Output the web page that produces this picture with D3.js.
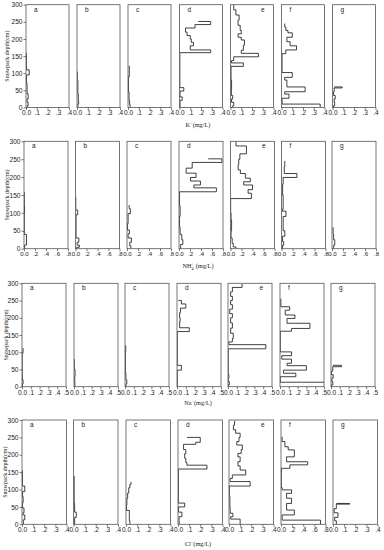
<!DOCTYPE html>
<html>
<head>
<meta charset="utf-8">
<script src="https://cdn.jsdelivr.net/npm/d3@7"></script>
<style>
  body { margin: 0; background: #fff; }
  svg { display: block; }
</style>
</head>
<body>
<div id="chart"></div>
<script>
const W = 384, H = 550;

// ---- data: each profile is a list of [layer top depth (cm), concentration (mg/L)] from the surface down
const panelLetters = ["a", "b", "c", "d", "e", "f", "g"];
const depthTicks = [0, 50, 100, 150, 200, 250, 300];
const ticks04 = [0, 0.1, 0.2, 0.3, 0.4];
const ticks05 = [0, 0.1, 0.2, 0.3, 0.4, 0.5];
const ticks08 = [0, 0.2, 0.4, 0.6, 0.8];
const ionNames = [["K", "+", "", "(mg/L)"], ["NH", "+", "4", " (mg/L)"], ["Na", "+", "", "(mg/L)"], ["Cl", "−", "", "(mg/L)"]];

const kProfiles = [
  [[160,0.003],[110,0.03],[95,0.005],[70,0.01],[40,0.02],[25,0.01],[15,0.02],[5,0.01]],
  [[105,0.002],[80,0.008],[40,0.012],[20,0.015],[10,0.008]],
  [[122,0.012],[90,0.004],[45,0.01],[20,0.015],[8,0.02]],
  [[251,0.175],[251,0.29],[242,0.144],[232,0.056],[220,0.07],[210,0.1],[200,0.11],[190,0.13],[180,0.1],[168,0.29],[160,0.003],[58,0.04],[48,0.005],[31,0.025],[21,0.005]],
  [[300,0.03],[285,0.05],[270,0.08],[255,0.07],[240,0.09],[225,0.1],[215,0.07],[205,0.1],[197,0.13],[182,0.12],[167,0.1],[158,0.26],[148,0.03],[137,0.01],[130,0.12],[120,0.005],[80,0.01],[50,0.008],[35,0.02],[25,0.01],[15,0.03],[5,0.02]],
  [[245,0.03],[235,0.04],[225,0.06],[218,0.1],[205,0.05],[192,0.08],[180,0.14],[168,0.04],[157,0.005],[102,0.1],[88,0.03],[80,0.05],[60,0.22],[46,0.03],[39,0.07],[27,0.005],[10,0.36]],
  [[60,0.015],[60,0.09],[57,0.015],[45,0.01],[35,0.025],[25,0.015],[15,0.02],[5,0.01]]
];
const nh4Profiles = [
  [[158,0.005],[120,0.01],[100,0.005],[40,0.045],[10,0.01]],
  [[145,0.005],[108,0.04],[95,0.01],[30,0.06],[18,0.03],[10,0.07],[4,0.02]],
  [[122,0.04],[112,0.06],[98,0.02],[70,0.01],[52,0.045],[42,0.02],[30,0.08],[18,0.05],[8,0.07]],
  [[251,0.53],[251,0.78],[241,0.24],[225,0.13],[211,0.31],[199,0.21],[189,0.39],[178,0.27],[170,0.68],[159,0.01],[120,0.02],[90,0.01],[60,0.02],[40,0.05],[25,0.07],[12,0.03]],
  [[300,0.1],[287,0.29],[265,0.17],[250,0.15],[235,0.14],[220,0.18],[210,0.27],[197,0.36],[187,0.24],[178,0.4],[165,0.32],[155,0.38],[140,0.003],[100,0.01],[80,0.02],[50,0.01],[30,0.03],[15,0.05],[5,0.1]],
  [[245,0.06],[230,0.05],[210,0.28],[199,0.03],[180,0.02],[150,0.03],[110,0.01],[105,0.08],[90,0.03],[50,0.06],[35,0.02],[20,0.04],[10,0.02]],
  [[60,0.02],[40,0.03],[25,0.05],[10,0.03]]
];
const naProfiles = [
  [[112,0.012],[97,0.002],[30,0.004],[20,0.012],[8,0.005]],
  [[80,0.003],[50,0.012],[30,0.008],[15,0.01]],
  [[120,0.008],[100,0.004],[40,0.01],[20,0.02],[8,0.012]],
  [[252,0.02],[250,0.05],[240,0.1],[228,0.04],[215,0.03],[200,0.035],[188,0.03],[171,0.14],[160,0.003],[62,0.05],[48,0.003]],
  [[298,0.16],[288,0.05],[275,0.03],[262,0.05],[250,0.03],[238,0.05],[225,0.02],[212,0.05],[200,0.03],[185,0.05],[170,0.03],[155,0.06],[140,0.05],[130,0.01],[122,0.43],[110,0.002],[35,0.01],[25,0.003],[15,0.015],[5,0.003]],
  [[255,0.01],[232,0.11],[222,0.06],[208,0.17],[198,0.08],[184,0.34],[169,0.13],[161,0.003],[101,0.13],[90,0.02],[80,0.13],[68,0.08],[61,0.3],[48,0.04],[39,0.18],[29,0.003],[13,0.55]],
  [[62,0.02],[62,0.12],[58,0.02],[45,0.005],[35,0.025],[25,0.01],[15,0.02],[5,0.005]]
];
const clProfiles = [
  [[155,0.004],[110,0.025],[94,0.005],[80,0.01],[62,0.004],[47,0.018],[33,0.008],[27,0.025],[13,0.012]],
  [[139,0.006],[60,0.01],[35,0.025],[20,0.01]],
  [[122,0.045],[115,0.035],[105,0.025],[90,0.015],[75,0.008],[55,0.004],[40,0.03],[10,0.035]],
  [[250,0.08],[250,0.2],[236,0.16],[230,0.05],[215,0.07],[203,0.06],[190,0.07],[178,0.08],[170,0.26],[159,0.003],[61,0.06],[50,0.005],[35,0.035],[22,0.01]],
  [[298,0.05],[285,0.04],[272,0.06],[262,0.1],[250,0.09],[238,0.07],[228,0.12],[215,0.11],[204,0.08],[194,0.1],[180,0.08],[168,0.1],[156,0.15],[142,0.03],[132,0.01],[123,0.19],[110,0.003],[80,0.008],[50,0.01],[32,0.035],[22,0.015],[15,0.1]],
  [[252,0.02],[238,0.07],[223,0.13],[214,0.24],[194,0.1],[180,0.48],[171,0.16],[161,0.01],[151,0.005],[106,0.02],[99,0.19],[89,0.1],[75,0.19],[60,0.1],[41,0.24],[27,0.02],[12,0.71]],
  [[60,0.03],[60,0.15],[58,0.03],[45,0.01],[33,0.045],[20,0.015],[10,0.03]]
];

const rowProfiles = [kProfiles, nh4Profiles, naProfiles, clProfiles];
const rowTicks = [
  [ticks04, ticks04, ticks04, ticks04, ticks04, ticks04, ticks04],
  [ticks08, ticks08, ticks08, ticks08, ticks08, ticks08, ticks08],
  [ticks05, ticks05, ticks05, ticks05, ticks05, ticks05, ticks05],
  [ticks04, ticks04, ticks04, ticks04, ticks04, ticks08, ticks04]
];

const rows = [
  { top: 4.7, bottom: 107.5, lefts: [26, 77, 128, 179.5, 230.5, 281.5, 332.5], w: 43, titleY: 127, yTitleX: 7 },
  { top: 141.3, bottom: 248.7, lefts: [24, 75.5, 127, 179, 230.5, 281.5, 332], w: 44, titleY: 268, yTitleX: 7 },
  { top: 283.3, bottom: 386.7, lefts: [22, 74, 125, 177, 228, 280, 331], w: 44, titleY: 405, yTitleX: 6 },
  { top: 420, bottom: 524.3, lefts: [22, 73.5, 126, 178, 229, 281, 333], w: 44.5, titleY: 546, yTitleX: 5 }
];

const svg = d3.select("#chart").append("svg").attr("width", W).attr("height", H);
const defs = svg.append("defs");
const fmt = v => v === 0 ? "0.0" : d3.format(".1f")(v).replace(/^0/, "");

rows.forEach((row, r) => {
  const y = d3.scaleLinear().domain([0, 300]).range([row.bottom, row.top]);

  panelLetters.forEach((letter, p) => {
    const x0 = row.lefts[p];
    const ticks = rowTicks[r][p];
    const x = d3.scaleLinear().domain([0, ticks[ticks.length - 1]]).range([x0, x0 + row.w]);
    const g = svg.append("g");

    const clipId = `clip-${r}-${p}`;
    defs.append("clipPath").attr("id", clipId).append("rect")
      .attr("x", x0).attr("y", row.top).attr("width", row.w).attr("height", row.bottom - row.top);

    // step profile
    const prof = rowProfiles[r][p];
    const pts = [];
    prof.forEach((layer, i) => {
      const bot = i + 1 < prof.length ? prof[i + 1][0] : 0;
      pts.push([layer[1], layer[0]], [layer[1], bot]);
    });
    g.append("path")
      .attr("d", d3.line().x(d => x(d[0])).y(d => y(d[1]))(pts))
      .attr("fill", "none").attr("stroke", "#111").attr("stroke-width", 0.8)
      .attr("clip-path", `url(#${clipId})`);

    // frame
    g.append("rect").attr("x", x0).attr("y", row.top).attr("width", row.w).attr("height", row.bottom - row.top)
      .attr("fill", "none").attr("stroke", "#555").attr("stroke-width", 0.8);

    // x axis
    const xa = g.append("g").attr("transform", `translate(0,${row.bottom})`)
      .call(d3.axisBottom(x).tickValues(ticks).tickFormat(fmt).tickSize(2.5).tickSizeOuter(0));
    xa.select(".domain").remove();
    xa.selectAll("line").attr("stroke", "#444").attr("stroke-width", 0.7);
    xa.selectAll("text").attr("font-family", "Liberation Sans, Arial, sans-serif")
      .attr("font-size", r === 1 ? 6.1 : 6.5).attr("fill", "#222").attr("dy", "0.6em").attr("y", 4);

    // panel letter
    const right = letter === "e";
    g.append("text")
      .attr("x", right ? x0 + row.w - 9 : x0 + 8)
      .attr("y", row.top + 7)
      .attr("text-anchor", right ? "end" : "start")
      .attr("font-family", "Liberation Sans, Arial, sans-serif").attr("font-size", 6.5).attr("fill", "#222")
      .text(letter);

    if (p === 0) {
      const ya = g.append("g").attr("transform", `translate(${x0},0)`)
        .call(d3.axisLeft(y).tickValues(depthTicks).tickSize(2.5).tickSizeOuter(0));
      ya.select(".domain").remove();
      ya.selectAll("line").attr("stroke", "#444").attr("stroke-width", 0.7);
      ya.selectAll("text").attr("font-family", "Liberation Sans, Arial, sans-serif")
        .attr("font-size", 6.6).attr("fill", "#222").attr("x", -3.5);
    }
  });

  // y axis title
  svg.append("text")
    .attr("transform", `translate(${row.yTitleX},${(row.top + row.bottom) / 2}) rotate(-90)`)
    .attr("text-anchor", "middle").attr("dy", "0.35em")
    .attr("font-family", "Liberation Serif, Times New Roman, serif").attr("font-size", 6)
    .attr("fill", "#222").text("Snowpack depth(cm)");

  // x axis title with superscript/subscript
  const [base, sup, sub, unit] = ionNames[r];
  const t = svg.append("text").attr("x", 198).attr("y", row.titleY).attr("text-anchor", "middle")
    .attr("font-family", "Liberation Serif, Times New Roman, serif").attr("font-size", 6.3).attr("fill", "#222");
  t.append("tspan").text(base);
  if (sub) {
    t.append("tspan").attr("font-size", 4.5).attr("dy", 1.5).text(sub);
    t.append("tspan").attr("font-size", 4.5).attr("dx", -2.3).attr("dy", -4).text(sup);
    t.append("tspan").attr("dy", 2.5).text(unit);
  } else {
    t.append("tspan").attr("font-size", 4.5).attr("dy", -2.5).text(sup);
    t.append("tspan").attr("dy", 2.5).text(unit);
  }
});
</script>
</body>
</html>
